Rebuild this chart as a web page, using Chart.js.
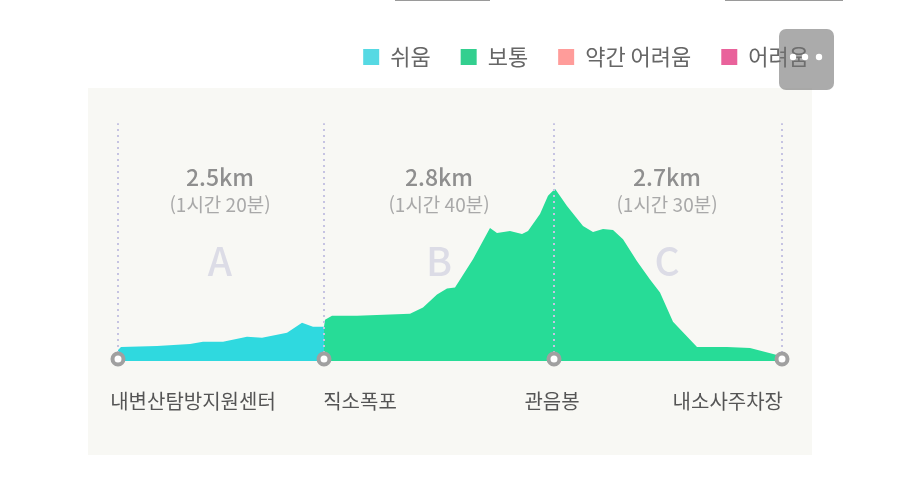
<!DOCTYPE html>
<html lang="ko">
<head>
<meta charset="utf-8">
<style>html,body{margin:0;padding:0;background:#fff}canvas{display:block}</style>
<script src="https://cdn.jsdelivr.net/npm/chart.js@4"></script>
</head>
<body>
<canvas id="c" width="900" height="480"></canvas>
<script>
const legendLabels = ['쉬움', '보통', '약간 어려움', '어려움'];
const legendColors = ['#56d9e3', '#33cf8f', '#ff9c9a', '#e9629b'];
const easyDistance = [0, 3, 39, 72, 85, 105, 129, 144, 169, 184, 195, 206];
const easyHeight = [11, 14, 15, 17, 19, 19, 24, 23, 28, 38, 34, 34];
const normalDistance = [206, 207, 214, 239, 292, 305, 319, 329, 337, 355, 372, 379, 392, 404, 410, 422, 430, 437, 449, 465, 475, 485, 495, 505, 519, 532, 542, 555, 579, 609, 632, 659, 664];
const normalHeight = [34, 41, 45, 45, 47, 53, 66, 72, 73, 101, 132, 127, 129, 126, 129, 146, 164, 171, 154, 134, 128, 131, 130, 121, 99, 81, 68, 39, 14, 14, 13, 6, 3];
const waypointDistance = [0, 206, 436, 664];
const waypointNames = ['내변산탐방지원센터', '직소폭포', '관음봉', '내소사주차장'];
const sectionNames = ['A', 'B', 'C'];
const sectionKm = ['2.5km', '2.8km', '2.7km'];
const sectionTime = ['(1시간 20분)', '(1시간 40분)', '(1시간 30분)'];

const FONT = '"Noto Sans CJK KR","Noto Sans",sans-serif';
const pairs = (xs, ys) => xs.map((x, i) => ({x, y: ys[i]}));

const guideSets = waypointDistance.map(x => ({
  type: 'line', data: [{x, y: 2}, {x, y: 236}],
  borderColor: '#c6c4e2', borderWidth: 2, borderDash: [2, 4],
  pointRadius: 0, fill: false
}));

const decor = {
  id: 'decor',
  beforeDraw(chart) {
    const c = chart.ctx;
    c.save();
    c.fillStyle = '#fff';
    c.fillRect(0, 0, 900, 480);
    c.fillStyle = '#f8f8f4';
    c.fillRect(88, 88, 724, 367);
    c.fillStyle = '#9a9a9a';
    c.fillRect(395, 0, 95, 1);
    c.fillRect(725, 0, 118, 1);
    c.restore();
  },
  beforeDatasetsDraw(chart) {
    const c = chart.ctx, xs = chart.scales.x;
    const centers = [102, 321, 549];
    c.save();
    c.textAlign = 'center';
    c.textBaseline = 'middle';
    centers.forEach((d, i) => {
      const x = xs.getPixelForValue(d);
      c.fillStyle = '#dcdce6';
      c.font = '500 39px ' + FONT;
      c.fillText(sectionNames[i], x, 261);
      c.fillStyle = '#8f8f8f';
      c.font = '500 23px ' + FONT;
      c.fillText(sectionKm[i], x, 177);
      c.fillStyle = '#a9a9a9';
      c.font = '400 19px ' + FONT;
      c.fillText(sectionTime[i], x, 205);
    });
    c.restore();
  },
  afterDraw(chart) {
    const c = chart.ctx, xs = chart.scales.x;
    c.save();
    c.fillStyle = '#555';
    c.font = '400 20px ' + FONT;
    c.textBaseline = 'middle';
    const aligns = ['center', 'center', 'center', 'right'];
    const anchors = [75, 242, 434, 665];
    waypointNames.forEach((t, i) => {
      c.textAlign = aligns[i];
      c.fillText(t, xs.getPixelForValue(anchors[i]), 401);
    });
    c.fillStyle = 'rgba(115,115,115,0.6)';
    c.beginPath();
    c.roundRect(779, 29, 55, 61, 7);
    c.fill();
    c.fillStyle = '#fff';
    [793, 805, 819].forEach(x => {
      c.beginPath();
      c.arc(x, 57, 3.2, 0, Math.PI * 2);
      c.fill();
    });
    c.restore();
  }
};

new Chart(document.getElementById('c'), {
  type: 'line',
  data: {
    datasets: [
      {
        type: 'scatter', data: waypointDistance.map(x => ({x, y: 2})), clip: false,
        pointRadius: 5.5, pointBackgroundColor: '#fff', pointBorderColor: '#a0a0a0', pointBorderWidth: 4, showLine: false
      },
      ...guideSets,
      {
        label: legendLabels[0], data: pairs(easyDistance, easyHeight),
        backgroundColor: '#2fd9df', borderWidth: 0, pointRadius: 0, fill: 'origin', tension: 0
      },
      {
        label: legendLabels[1], data: pairs(normalDistance, normalHeight),
        backgroundColor: '#27dc97', borderWidth: 0, pointRadius: 0, fill: 'origin', tension: 0
      },
      {label: legendLabels[2], data: [], backgroundColor: legendColors[2]},
      {label: legendLabels[3], data: [], backgroundColor: legendColors[3]}
    ]
  },
  options: {
    responsive: false,
    animation: false,
    devicePixelRatio: 1,
    layout: {padding: {left: 88, right: 61, top: 16, bottom: 119}},
    scales: {
      x: {type: 'linear', display: false, min: -30, max: 721},
      y: {display: false, min: 0, max: 281}
    },
    plugins: {
      tooltip: {enabled: false},
      legend: {
        position: 'top', align: 'end',
        labels: {
          boxWidth: 16, boxHeight: 16, padding: 30, color: '#666',
          font: {size: 22, family: FONT},
          generateLabels: () => legendLabels.map((text, i) => ({
            text, fillStyle: legendColors[i], strokeStyle: 'transparent', lineWidth: 0, fontColor: '#666', datasetIndex: i
          }))
        }
      }
    }
  },
  plugins: [decor]
});
</script>
</body>
</html>
